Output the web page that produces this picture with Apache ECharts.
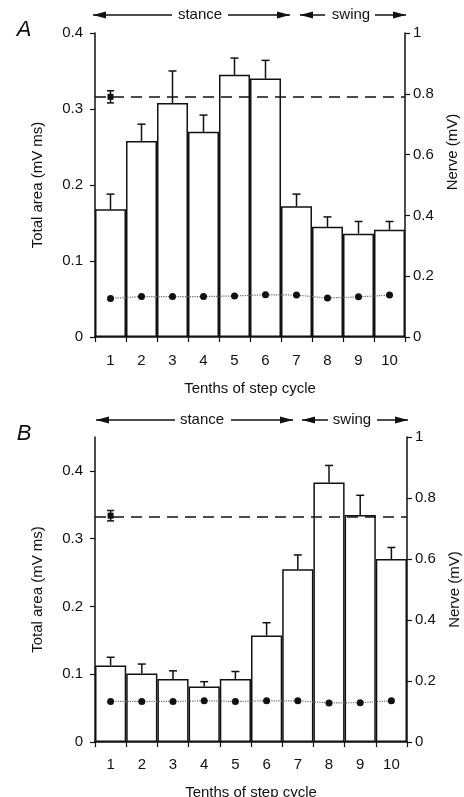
<!DOCTYPE html>
<html>
<head>
<meta charset="utf-8">
<script src="https://cdn.jsdelivr.net/npm/echarts@6/dist/echarts.min.js"></script>
<style>
html,body{margin:0;padding:0;background:#fff;}
#chart{width:464px;height:797px;}
</style>
</head>
<body>
<div id="chart"></div>
<script>
// ---------- data ----------
const categories = ['1','2','3','4','5','6','7','8','9','10'];

// Panel A
const areaA    = [0.168, 0.258, 0.308, 0.270, 0.345, 0.340, 0.172, 0.145, 0.136, 0.141];
const areaErrA = [0.020, 0.022, 0.042, 0.022, 0.022, 0.024, 0.016, 0.013, 0.016, 0.011];
const nerveA   = [0.127, 0.133, 0.133, 0.133, 0.135, 0.139, 0.138, 0.128, 0.132, 0.138];
const refA = 0.79, refErrA = 0.02;

// Panel B
const areaB    = [0.113, 0.101, 0.093, 0.082, 0.093, 0.157, 0.255, 0.383, 0.335, 0.270];
const areaErrB = [0.012, 0.014, 0.012, 0.007, 0.011, 0.019, 0.021, 0.025, 0.029, 0.017];
const nerveB   = [0.133, 0.133, 0.133, 0.135, 0.133, 0.135, 0.135, 0.128, 0.129, 0.135];
const refB = 0.742, refErrB = 0.017;

const leftTicksA = [0, 0.1, 0.2, 0.3, 0.4];
const leftTicksB = [0, 0.1, 0.2, 0.3, 0.4];
const rightTicks = [0, 0.2, 0.4, 0.6, 0.8, 1];

// ---------- helpers ----------
const FONT = "'Liberation Sans', Arial, Helvetica, sans-serif";
const INK = '#111';

function errRender(params, api) {
  const i = api.value(0), v = api.value(1), e = api.value(2);
  const p0 = api.coord([i, v]);
  const p1 = api.coord([i, v + e]);
  const style = {stroke: INK, lineWidth: 1.5};
  return {type: 'group', children: [
    {type: 'line', shape: {x1: p0[0], y1: p0[1], x2: p1[0], y2: p1[1]}, style},
    {type: 'line', shape: {x1: p1[0]-4, y1: p1[1], x2: p1[0]+4, y2: p1[1]}, style}
  ]};
}
function refRender(params, api) {
  const i = api.value(0), v = api.value(1), e = api.value(2);
  const c = api.coord([i, v]);
  const lo = api.coord([i, v - e]);
  const hi = api.coord([i, v + e]);
  const style = {stroke: INK, lineWidth: 1.5};
  return {type: 'group', children: [
    {type: 'line', shape: {x1: c[0], y1: lo[1], x2: c[0], y2: hi[1]}, style},
    {type: 'line', shape: {x1: c[0]-3.5, y1: lo[1], x2: c[0]+3.5, y2: lo[1]}, style},
    {type: 'line', shape: {x1: c[0]-3.5, y1: hi[1], x2: c[0]+3.5, y2: hi[1]}, style},
    {type: 'rect', shape: {x: c[0]-3, y: c[1]-3, width: 6, height: 6}, style: {fill: INK}}
  ]};
}

function xAxisCfg(gi, margin, gap) {
  return {
    type: 'category', gridIndex: gi, data: categories, boundaryGap: true,
    name: 'Tenths of step cycle', nameLocation: 'middle', nameGap: gap,
    nameTextStyle: {fontFamily: FONT, fontSize: 15, color: INK},
    axisLine: {lineStyle: {color: INK, width: 1.5}},
    axisTick: {show: true, length: 5, lineStyle: {color: INK, width: 1.2}},
    axisLabel: {fontFamily: FONT, fontSize: 15, color: INK, margin: margin},
    splitLine: {show: false}
  };
}
function leftAxisCfg(gi, max, ticks) {
  return {
    type: 'value', gridIndex: gi, min: 0, max: max, position: 'left',
    name: 'Total area (mV ms)', nameLocation: 'middle', nameGap: 50, nameRotate: 90,
    nameTextStyle: {fontFamily: FONT, fontSize: 15, color: INK},
    axisLine: {show: true, lineStyle: {color: INK, width: 1.5}},
    axisTick: {show: true, length: 5, customValues: ticks, lineStyle: {color: INK, width: 1.2}},
    axisLabel: {fontFamily: FONT, fontSize: 15, color: INK, margin: 12, customValues: ticks},
    splitLine: {show: false}
  };
}
function rightAxisCfg(gi, padding) {
  return {
    type: 'value', gridIndex: gi, min: 0, max: 1, interval: 0.2, position: 'right',
    name: 'Nerve (mV)', nameLocation: 'middle', nameGap: 40, nameRotate: 90,
    nameTextStyle: {fontFamily: FONT, fontSize: 15, color: INK, padding: padding},
    axisLine: {show: true, lineStyle: {color: INK, width: 1.5}},
    axisTick: {show: true, length: 5, customValues: rightTicks, lineStyle: {color: INK, width: 1.2}},
    axisLabel: {fontFamily: FONT, fontSize: 15, color: INK, margin: 8, customValues: rightTicks},
    splitLine: {show: false}
  };
}
function seriesFor(gi, area, err, nerve, ref, refErr) {
  const xi = gi, yl = gi * 2, yr = gi * 2 + 1;
  return [
    {type: 'bar', xAxisIndex: xi, yAxisIndex: yl, data: area, barCategoryGap: '0%',
     itemStyle: {color: '#fff', borderColor: INK, borderWidth: 1.5}, silent: true, z: 2},
    {type: 'custom', xAxisIndex: xi, yAxisIndex: yl, renderItem: errRender,
     data: area.map((v, i) => [i, v, err[i]]), silent: true, z: 3},
    {type: 'line', xAxisIndex: xi, yAxisIndex: yr, data: nerve, symbol: 'circle', symbolSize: 7,
     itemStyle: {color: INK}, lineStyle: {type: 'dotted', color: '#666', width: 1.2}, silent: true, z: 4,
     markLine: {silent: true, symbol: 'none', label: {show: false},
       lineStyle: {type: [11, 7], color: INK, width: 1.5}, data: [{yAxis: ref}]}},
    {type: 'custom', xAxisIndex: xi, yAxisIndex: yr, renderItem: refRender,
     data: [[0, ref, refErr]], silent: true, z: 5}
  ];
}

// ---------- annotations (phase arrows, panel letters) ----------
function arrow(x1, x2, y, head) {
  const els = [{type: 'line', shape: {x1: x1, y1: y, x2: x2, y2: y}, style: {stroke: INK, lineWidth: 1.5}}];
  if (head === 'left') {
    els.push({type: 'polygon', shape: {points: [[x1, y], [x1 + 13, y - 3.5], [x1 + 13, y + 3.5]]}, style: {fill: INK}});
  } else {
    els.push({type: 'polygon', shape: {points: [[x2, y], [x2 - 13, y - 3.5], [x2 - 13, y + 3.5]]}, style: {fill: INK}});
  }
  return els;
}
function label(text, x, y, size, italic) {
  return {type: 'text', x: x, y: y, style: {text: text, fill: INK, font: (italic ? 'italic ' : '') + size + 'px ' + FONT,
    align: 'center', verticalAlign: 'middle'}};
}
const graphics = [].concat(
  [label('A', 24, 30, 22, true), label('B', 24, 434, 22, true)],
  arrow(93, 172, 15, 'left'), [label('stance', 200, 15, 15)], arrow(228, 290, 15, 'right'),
  arrow(300, 325, 15, 'left'), [label('swing', 351, 15, 15)], arrow(375, 406, 15, 'right'),
  arrow(96, 175, 420, 'left'), [label('stance', 202, 420, 15)], arrow(231, 293, 420, 'right'),
  arrow(302, 328, 420, 'left'), [label('swing', 352, 420, 15)], arrow(377, 408, 420, 'right')
);

const chart = echarts.init(document.getElementById('chart'), null, {renderer: 'canvas'});
chart.setOption({
  backgroundColor: '#fff',
  animation: false,
  grid: [
    {left: 95, right: 59, top: 33, height: 304, containLabel: false, outerBoundsMode: 'none'},
    {left: 95, right: 57, top: 437, height: 305, containLabel: false, outerBoundsMode: 'none'}
  ],
  xAxis: [xAxisCfg(0, 16, 44), xAxisCfg(1, 15, 43)],
  yAxis: [leftAxisCfg(0, 0.4, leftTicksA), rightAxisCfg(0, [0, 0, 0, 66]),
          leftAxisCfg(1, 0.45, leftTicksB), rightAxisCfg(1, 0)],
  series: [].concat(seriesFor(0, areaA, areaErrA, nerveA, refA, refErrA),
                    seriesFor(1, areaB, areaErrB, nerveB, refB, refErrB)),
  graphic: graphics
});
</script>
</body>
</html>
